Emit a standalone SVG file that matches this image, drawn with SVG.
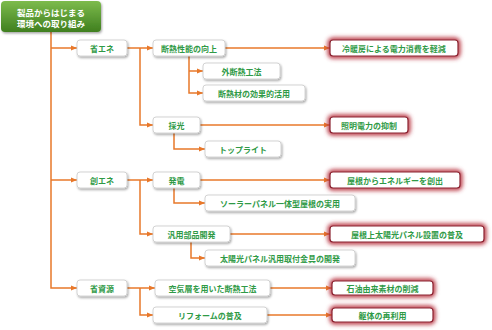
<svg xmlns="http://www.w3.org/2000/svg" width="492" height="330" viewBox="0 0 492 330">
<defs>
<linearGradient id="gr" x1="0" y1="0" x2="0" y2="1">
<stop offset="0" stop-color="#7dbb4c"/>
<stop offset="1" stop-color="#3f7f1f"/>
</linearGradient>
<filter id="sh" x="-20%" y="-30%" width="140%" height="170%">
<feDropShadow dx="1" dy="1.5" stdDeviation="0.8" flood-color="#000" flood-opacity="0.35"/>
</filter>
<filter id="bl" x="-20%" y="-80%" width="140%" height="260%">
<feGaussianBlur stdDeviation="2"/>
</filter>
<marker id="ar" viewBox="0 0 6 6" refX="6" refY="3" markerWidth="6" markerHeight="6" markerUnits="userSpaceOnUse" orient="auto">
<path d="M0,0.5 L6,3 L0,5.5 z" fill="#e8782a"/>
</marker>
</defs>
<style>
.n{fill:#fff;stroke:#c9c9c9;stroke-width:0.8;filter:url(#sh)}
.g{fill:none;stroke:#b8323f;stroke-width:5;filter:url(#bl)}
.r{fill:#fff;stroke:#8a2230;stroke-width:1.2}
.t{font-family:"Noto Sans CJK JP","Noto Sans",sans-serif;font-size:8px;font-weight:bold;fill:#2f9a46;text-anchor:middle;dominant-baseline:central}
.w{fill:#fff;font-size:8.5px}
.c path{fill:none;stroke:#e8782a;stroke-width:1.5}
</style>
<g id="connectors" class="c">
<path d="M51,32 V288 H77" marker-end="url(#ar)"/>
<path d="M51,48 H77" marker-end="url(#ar)"/>
<path d="M51,180 H77" marker-end="url(#ar)"/>
<path d="M127,48 H153" marker-end="url(#ar)"/>
<path d="M140,48 V125 H153" marker-end="url(#ar)"/>
<path d="M189,56 V93 H203" marker-end="url(#ar)"/>
<path d="M189,71 H203" marker-end="url(#ar)"/>
<path d="M174,133 V149 H205" marker-end="url(#ar)"/>
<path d="M127,180 H153" marker-end="url(#ar)"/>
<path d="M140,180 V234 H153" marker-end="url(#ar)"/>
<path d="M174,188 V203 H205" marker-end="url(#ar)"/>
<path d="M191,242 V258 H205" marker-end="url(#ar)"/>
<path d="M127,288 H155" marker-end="url(#ar)"/>
<path d="M140,288 V315 H153" marker-end="url(#ar)"/>
<path d="M225,48 H330" marker-end="url(#ar)"/>
<path d="M200,125 H330" marker-end="url(#ar)"/>
<path d="M200,180 H330" marker-end="url(#ar)"/>
<path d="M230,234 H330" marker-end="url(#ar)"/>
<path d="M270,288 H332" marker-end="url(#ar)"/>
<path d="M267,315 H332" marker-end="url(#ar)"/>
</g>
<g id="root">
<rect x="1" y="1" width="100" height="31" rx="4" fill="url(#gr)" filter="url(#sh)"/>
<text class="t w" x="51" y="11.5">製品からはじまる</text>
<text class="t w" x="51" y="23">環境への取り組み</text>
</g>
<g id="n-shoene"><rect class="n" x="77" y="40" width="50" height="16" rx="3"/><text class="t" x="102" y="48">省エネ</text></g>
<g id="n-soene"><rect class="n" x="77" y="172" width="50" height="16" rx="3"/><text class="t" x="102" y="180">創エネ</text></g>
<g id="n-shoshigen"><rect class="n" x="77" y="280" width="50" height="16" rx="3"/><text class="t" x="102" y="288">省資源</text></g>
<g id="n-dannetsu"><rect class="n" x="153" y="40" width="72" height="16" rx="3"/><text class="t" x="189" y="48">断熱性能の向上</text></g>
<g id="n-saiko"><rect class="n" x="153" y="117" width="47" height="16" rx="3"/><text class="t" x="176.5" y="125">採光</text></g>
<g id="n-hatsuden"><rect class="n" x="153" y="172" width="47" height="16" rx="3"/><text class="t" x="176.5" y="180">発電</text></g>
<g id="n-hanyo"><rect class="n" x="153" y="226" width="77" height="16" rx="3"/><text class="t" x="191.5" y="234">汎用部品開発</text></g>
<g id="n-kukiso"><rect class="n" x="155" y="280" width="115" height="16" rx="3"/><text class="t" x="212.5" y="288">空気層を用いた断熱工法</text></g>
<g id="n-reform"><rect class="n" x="153" y="307" width="114" height="16" rx="3"/><text class="t" x="210" y="315">リフォームの普及</text></g>
<g id="n-sotodan"><rect class="n" x="203" y="63" width="77" height="16" rx="3"/><text class="t" x="241.5" y="71">外断熱工法</text></g>
<g id="n-dannetsuzai"><rect class="n" x="203" y="85" width="102" height="16" rx="3"/><text class="t" x="254" y="93">断熱材の効果的活用</text></g>
<g id="n-toplight"><rect class="n" x="205" y="141" width="76" height="16" rx="3"/><text class="t" x="243" y="149">トップライト</text></g>
<g id="n-solar"><rect class="n" x="205" y="195" width="150" height="16" rx="3"/><text class="t" x="280" y="203">ソーラーパネル一体型屋根の実用</text></g>
<g id="n-kanagu"><rect class="n" x="205" y="250" width="150" height="16" rx="3"/><text class="t" x="280" y="258">太陽光パネル汎用取付金具の開発</text></g>
<g id="r-reidanbo"><rect class="g" x="330" y="40" width="128" height="16" rx="3"/><rect class="r" x="330" y="40" width="128" height="16" rx="3"/><text class="t" x="394" y="48">冷暖房による電力消費を軽減</text></g>
<g id="r-shomei"><rect class="g" x="330" y="117" width="78" height="16" rx="3"/><rect class="r" x="330" y="117" width="78" height="16" rx="3"/><text class="t" x="369" y="125">照明電力の抑制</text></g>
<g id="r-yane"><rect class="g" x="330" y="172" width="130" height="16" rx="3"/><rect class="r" x="330" y="172" width="130" height="16" rx="3"/><text class="t" x="395" y="180">屋根からエネルギーを創出</text></g>
<g id="r-yanejo"><rect class="g" x="330" y="226" width="154" height="16" rx="3"/><rect class="r" x="330" y="226" width="154" height="16" rx="3"/><text class="t" x="407" y="234">屋根上太陽光パネル設置の普及</text></g>
<g id="r-sekiyu"><rect class="g" x="332" y="281" width="101" height="14" rx="3"/><rect class="r" x="332" y="281" width="101" height="14" rx="3"/><text class="t" x="382.5" y="288">石油由来素材の削減</text></g>
<g id="r-kutai"><rect class="g" x="332" y="308" width="101" height="14" rx="3"/><rect class="r" x="332" y="308" width="101" height="14" rx="3"/><text class="t" x="382.5" y="315">躯体の再利用</text></g>
</svg>
